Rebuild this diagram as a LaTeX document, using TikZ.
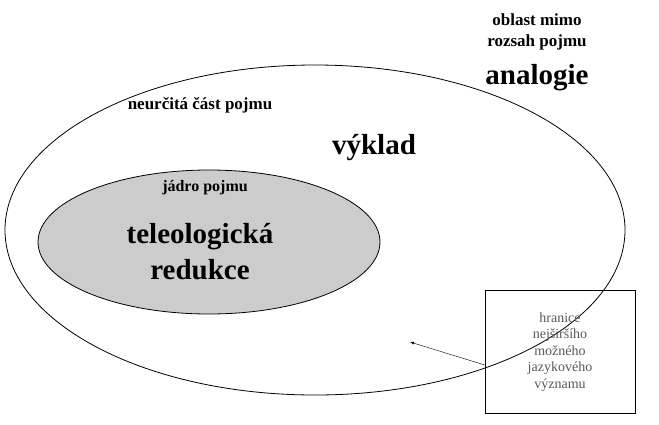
\documentclass[tikz,border=0pt]{standalone}
\usepackage{fontspec}
\setmainfont{Liberation Serif}
\begin{document}
\begin{tikzpicture}[x=1pt,y=-1pt,
  lbl/.style={font=\bfseries\fontsize{17}{21}\selectfont,align=center},
  big/.style={font=\bfseries\fontsize{29}{33}\selectfont,align=center},
  note/.style={draw,font=\fontsize{14}{16.5}\selectfont,text=black!65,align=center,minimum width=150,minimum height=123,inner sep=2}]
\useasboundingbox (0,0) rectangle (659,424);
\draw[thick] (315,230) ellipse [x radius=310,y radius=165];
\draw[thick,fill=black!20] (209,242) ellipse [x radius=171,y radius=72];
\coordinate (edge) at (410,342);
\node[lbl] (oblast) at (537,32) {oblast mimo\\rozsah pojmu};
\node[big] (analogie) at (537,78) {analogie};
\node[lbl] (neurc) at (200,105) {neurčitá část pojmu};
\node[big] (vyklad) at (374,148) {výklad};
\node[lbl,font=\bfseries\fontsize{16}{20}\selectfont] (jadro) at (205,188) {jádro pojmu};
\node[big,font=\bfseries\fontsize{29}{36}\selectfont] (tele) at (200,252) {teleologická\\redukce};
\node[note] (box) at (560,352) {hranice\\nejširšího\\možného\\jazykového\\významu};
\draw[-latex] (box.west |- 0,365) -- (edge);
\end{tikzpicture}
\end{document}
